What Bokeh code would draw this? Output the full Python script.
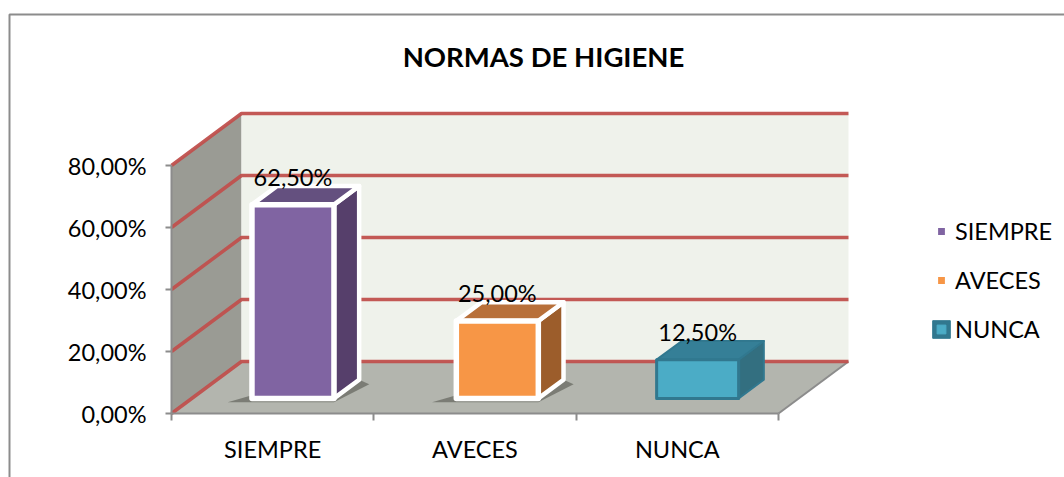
from bokeh.plotting import figure
from bokeh.embed import file_html
from bokeh.resources import INLINE
from bokeh.core.properties import value
from bokeh.models import FixedTicker, Legend, LegendItem, BoxAnnotation, LinearAxis, Range1d

title = "NORMAS DE HIGIENE"
categories = ["SIEMPRE", "AVECES", "NUNCA"]
values = [62.5, 25.0, 12.5]
labels = ["62,50%", "25,00%", "12,50%"]
y_ticks = [0, 20, 40, 60, 80]
y_tick_labels = ["0,00%", "20,00%", "40,00%", "60,00%", "80,00%"]

FRONT = ["#8064a2", "#f79646", "#4bacc6"]
TOP = ["#64507f", "#b8703a", "#357f97"]
SIDE = ["#563f6b", "#9c5d2b", "#336f80"]
EDGE = ["#ffffff", "#ffffff", "#31788f"]
EDGE_W = [5.5, 5.5, 3]
NUDGE = [0.0, 0.01, 0.0]
FONT = "Lato"
FS = "23.5px"

W, H = 1064, 477
X0, Y0 = 171, 413          # pixel position of the front-plane origin
PX_X = 202.33
PX_Y = 3.1
DX = 70 / PX_X
DY = 52 / PX_Y
BAR_W = 82 / PX_X
Z0 = 0.29
ZD = 0.36

p = figure(width=W, height=H, output_backend="svg", toolbar_location=None,
           x_range=Range1d(-X0 / PX_X, (W - X0) / PX_X),
           y_range=Range1d((Y0 - H) / PX_Y, Y0 / PX_Y),
           min_border=0, x_axis_type=None, y_axis_type=None, outline_line_color=None,
           background_fill_color="white", border_fill_color="white")
p.grid.visible = False

# walls and floor
top_v = y_ticks[-1]
n = len(categories)
p.patch([0, 0, DX, DX], [0, top_v, top_v + DY, DY], fill_color="#9a9b94", line_color=None)
p.patch([DX, DX, n + DX, n + DX], [DY, top_v + DY, top_v + DY, DY], fill_color="#eff2eb", line_color=None)
p.patch([0, n, n + DX, DX], [0, 0, DY, DY], fill_color="#b3b5ae", line_color=None)
p.line([n, n + DX], [0, DY], line_color="#8c8c8c", line_width=2)
for v in y_ticks:
    p.line([0, DX, n + DX], [v, v + DY, v + DY], line_color="#c0504d", line_width=3.5, line_alpha=0.95)

# bars
centers = [i + 0.5 + Z0 * DX + NUDGE[i] for i in range(n)]
for i, val in enumerate(values):
    c = centers[i]
    l, r = c - BAR_W / 2, c + BAR_W / 2
    b = Z0 * DY
    t = b + val
    ox, oy = ZD * DX, ZD * DY
    if i < 2:
        p.patch([l - 0.12, r, r + ox + 0.05, r + ox, l], [b - 1.2, b - 1.2, b + oy - 1.5, b + oy, b + 1],
                fill_color="#55564f", fill_alpha=0.6, line_color=None)
    p.patch([r, r + ox, r + ox, r], [b, b + oy, t + oy, t], fill_color=SIDE[i],
            line_color=EDGE[i], line_width=EDGE_W[i] - 1, line_join="round")
    p.patch([l, l + ox, r + ox, r], [t, t + oy, t + oy, t], fill_color=TOP[i],
            line_color=EDGE[i], line_width=EDGE_W[i] - 1, line_join="round")
    p.quad(left=[l], right=[r], bottom=[b], top=[t], fill_color=FRONT[i],
           line_color=EDGE[i], line_width=EDGE_W[i], line_join="round")

# data labels
p.text(centers, [Z0 * DY + v + 9 for v in values], text=labels,
       text_font=value(FONT), text_font_size=FS, text_color="#000000",
       text_align="center", text_baseline="middle")

# title
p.text([(543 - X0) / PX_X], [(Y0 - 56) / PX_Y], text=[title],
       text_font=value(FONT), text_font_size="27.5px", text_font_style="bold",
       text_color="#000000", text_align="center", text_baseline="middle")

# axes
ax_y = LinearAxis(bounds=(0, top_v), ticker=FixedTicker(ticks=y_ticks), fixed_location=0)
ax_y.major_label_overrides = dict(zip(y_ticks, y_tick_labels))
ax_y.major_label_text_font = FONT
ax_y.major_label_text_font_size = FS
ax_y.major_label_text_color = "#000000"
ax_y.axis_line_color = "#8c8c8c"
ax_y.axis_line_width = 2
ax_y.major_tick_line_color = "#8c8c8c"
ax_y.major_tick_line_width = 2
ax_y.major_tick_out = 6
ax_y.major_tick_in = 0
ax_y.minor_tick_line_color = None
ax_y.major_label_standoff = 19
p.add_layout(ax_y, "left")

tick_centers = [i + 0.5 for i in range(n)]
ax_x = LinearAxis(bounds=(0, n), fixed_location=0,
                  ticker=FixedTicker(ticks=tick_centers, minor_ticks=list(range(n + 1))))
ax_x.major_label_overrides = dict(zip(tick_centers, categories))
ax_x.major_label_text_font = FONT
ax_x.major_label_text_font_size = FS
ax_x.major_label_text_color = "#000000"
ax_x.axis_line_color = "#8c8c8c"
ax_x.axis_line_width = 2
ax_x.major_tick_line_color = None
ax_x.major_tick_in = 0
ax_x.major_tick_out = 0
ax_x.minor_tick_line_color = "#8c8c8c"
ax_x.minor_tick_line_width = 2
ax_x.minor_tick_out = 7
ax_x.minor_tick_in = 0
ax_x.major_label_standoff = 14
p.add_layout(ax_x, "below")

# legend
nan = float("nan")
m1 = p.scatter([nan], [nan], marker="square", fill_color=FRONT[0], line_color="white", line_width=2)
m2 = p.scatter([nan], [nan], marker="square", fill_color=FRONT[1], line_color="white", line_width=2)
back = p.quad(left=[nan], right=[nan], bottom=[nan], top=[nan], fill_color=EDGE[2], line_color=EDGE[2])
m3 = p.scatter([nan], [nan], marker="square", fill_color=FRONT[2], line_color=FRONT[2], line_width=1)
legend = Legend(items=[LegendItem(label=categories[0], renderers=[m1]),
                       LegendItem(label=categories[1], renderers=[m2]),
                       LegendItem(label=categories[2], renderers=[back, m3])],
                location=(930, 134), margin=0, padding=0, spacing=21,
                glyph_width=22, glyph_height=22, label_standoff=3,
                label_text_font=FONT, label_text_font_size=FS, label_text_color="#000000",
                border_line_color=None, background_fill_color=None, background_fill_alpha=0)
p.add_layout(legend)

# chart-area frame
p.add_layout(BoxAnnotation(left=9, right=W + 40, top=H - 14, bottom=-40,
                           left_units="screen", right_units="screen", top_units="screen", bottom_units="screen",
                           fill_alpha=0, line_color="#8c8c8c", line_alpha=1, line_width=2))

open("out.html", "w").write(file_html(p, INLINE))
